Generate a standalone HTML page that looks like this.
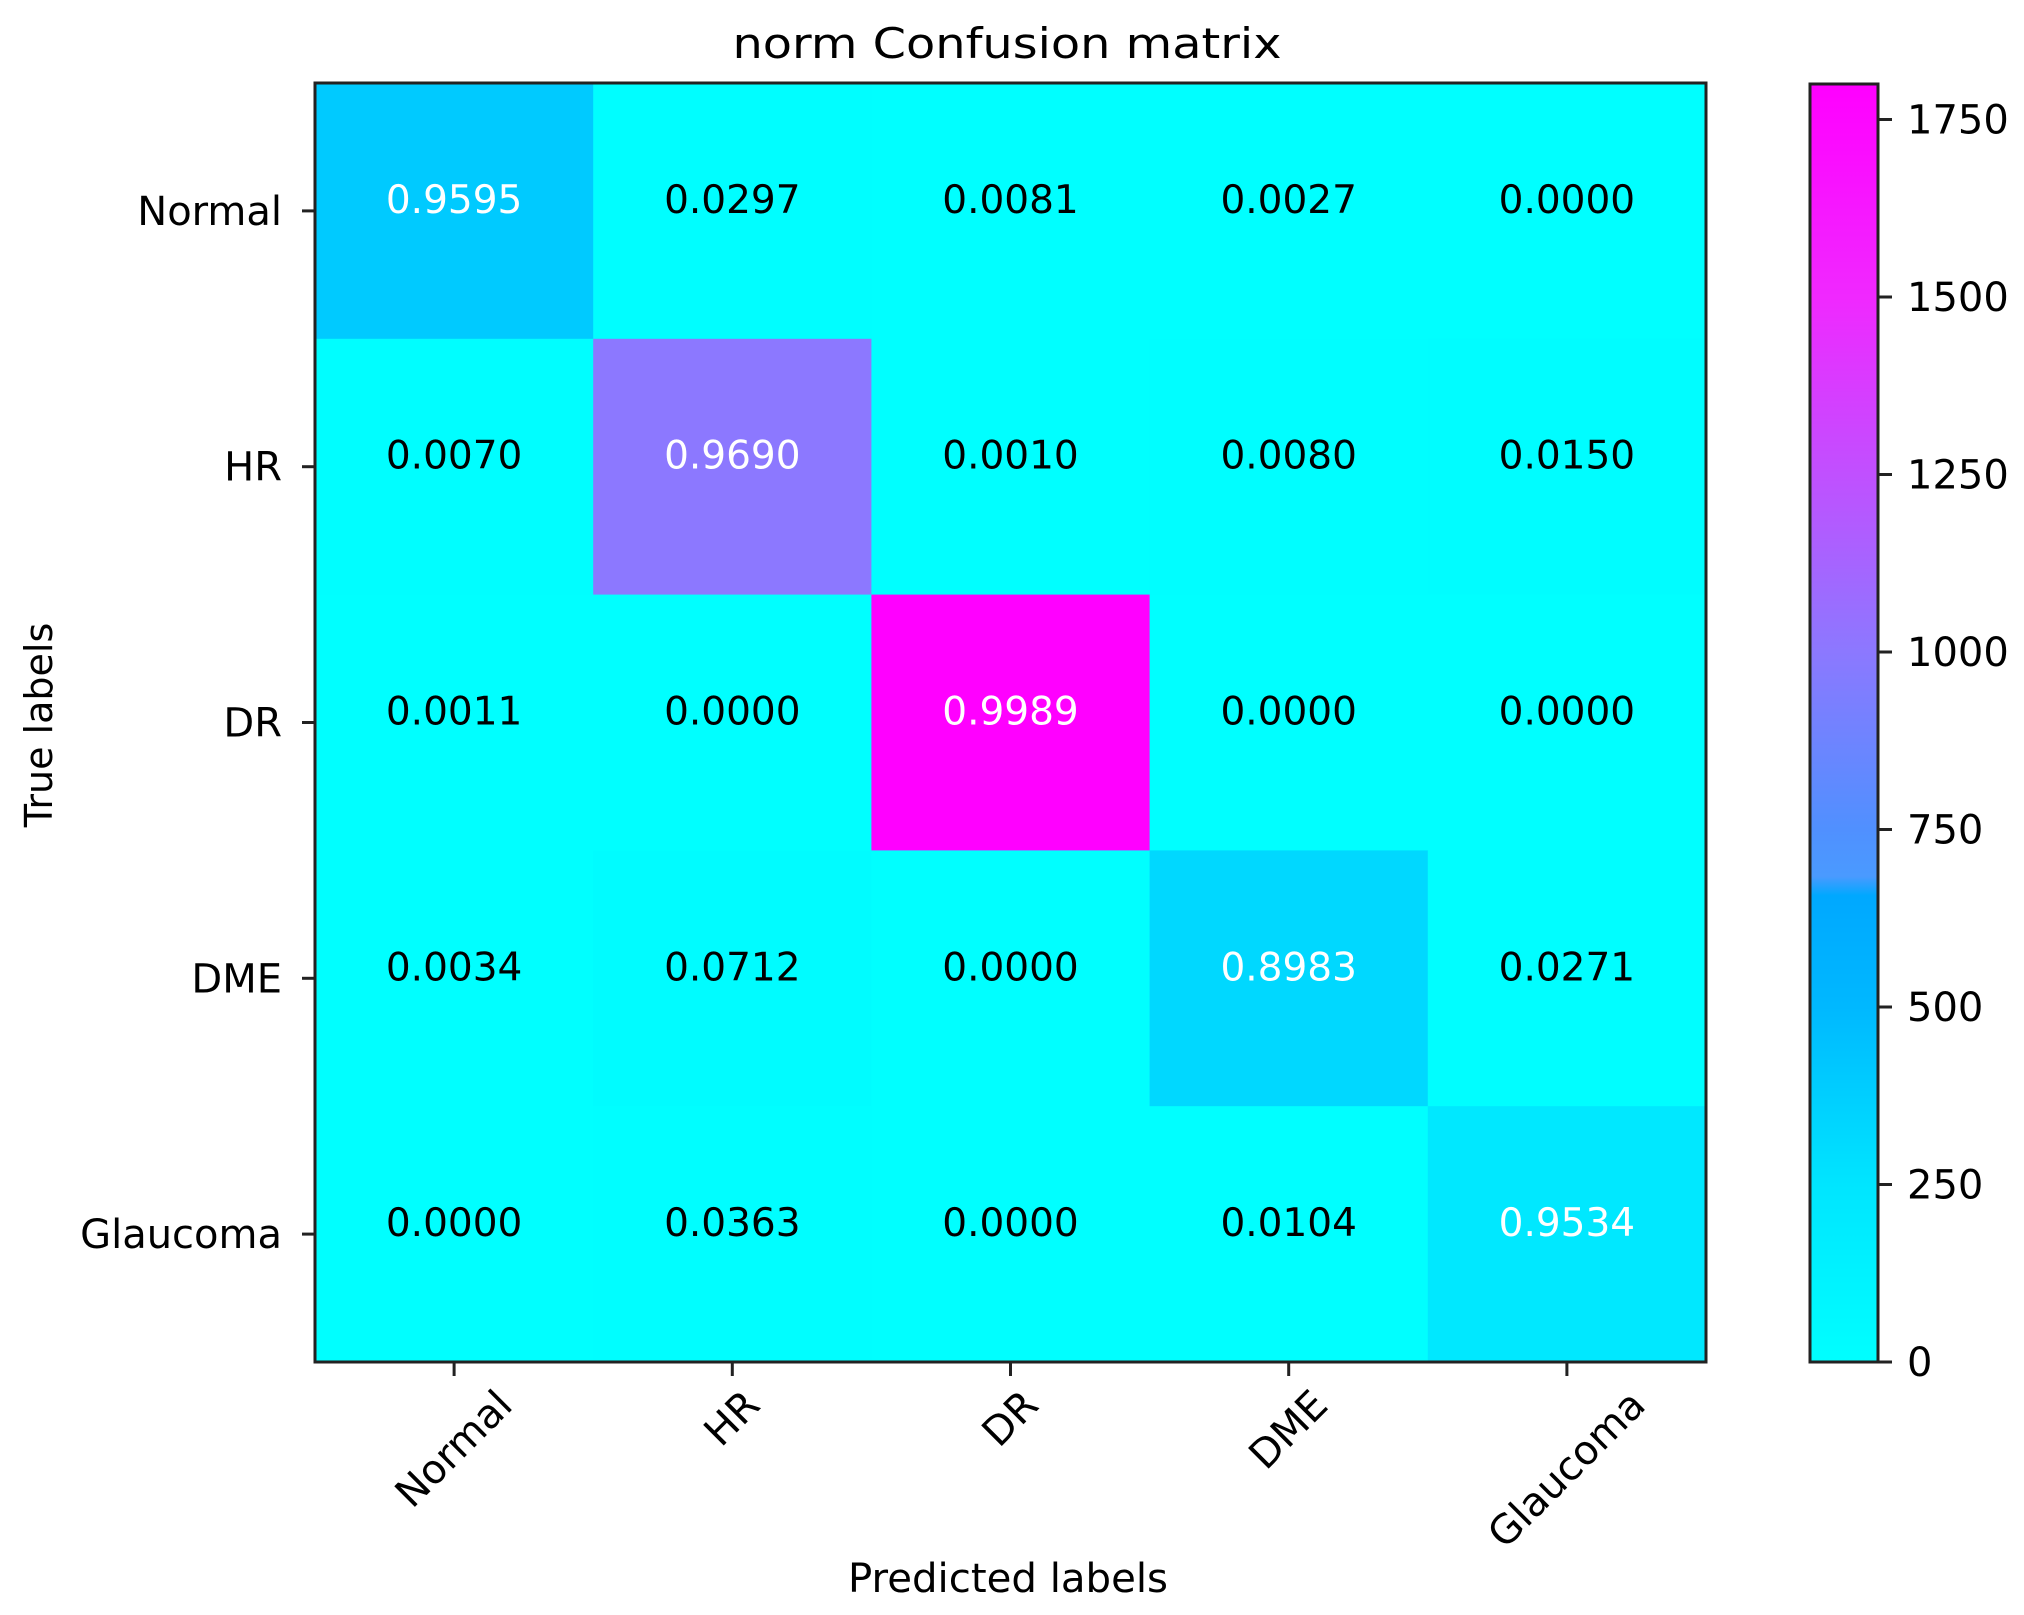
<!DOCTYPE html>
<html><head><meta charset="utf-8"><style>
html,body{margin:0;padding:0;background:#fff;}
svg{display:block;font-family:"DejaVu Sans","Liberation Sans",sans-serif;}
</style></head><body>
<svg id="chart" width="2024" height="1615" viewBox="0 0 2024 1615" xmlns="http://www.w3.org/2000/svg">
<defs>
<linearGradient id="cbgrad" x1="0" y1="1" x2="0" y2="0">
<stop offset="0" stop-color="#00ffff"/>
<stop offset="0.139" stop-color="#00e5ff"/>
<stop offset="0.278" stop-color="#00b8ff"/>
<stop offset="0.365" stop-color="#00a8ff"/>
<stop offset="0.38" stop-color="#4a9aff"/>
<stop offset="0.417" stop-color="#5090ff"/>
<stop offset="0.556" stop-color="#8c78ff"/>
<stop offset="0.694" stop-color="#c050ff"/>
<stop offset="0.833" stop-color="#f028ff"/>
<stop offset="1" stop-color="#ff00ff"/>
</linearGradient>
</defs>
<text x="1007" y="58" font-size="42" text-anchor="middle" textLength="549" lengthAdjust="spacingAndGlyphs">norm Confusion matrix</text>
<g id="cells"></g>
<g id="annot"></g>
<rect x="315" y="83" width="1391" height="1279" fill="none" stroke="#222" stroke-width="3"/>
<g id="yaxis"></g>
<g id="xaxis"></g>
<text x="0" y="0" font-size="38" text-anchor="middle" transform="translate(52,725) rotate(-90)">True labels</text>
<text x="1008" y="1592" font-size="40" text-anchor="middle" textLength="320" lengthAdjust="spacingAndGlyphs">Predicted labels</text>
<rect x="1810" y="84" width="68" height="1278" fill="url(#cbgrad)" stroke="#222" stroke-width="3"/>
<g id="cbaxis"></g>
</svg>
<script>
const classes = ["Normal","HR","DR","DME","Glaucoma"];
const normValues = [
 [0.9595,0.0297,0.0081,0.0027,0.0000],
 [0.0070,0.9690,0.0010,0.0080,0.0150],
 [0.0011,0.0000,0.9989,0.0000,0.0000],
 [0.0034,0.0712,0.0000,0.8983,0.0271],
 [0.0000,0.0363,0.0000,0.0104,0.9534]
];
const counts = [
 [400,12,3,1,0],
 [7,1000,1,8,15],
 [2,0,1800,0,0],
 [1,25,0,320,10],
 [0,8,0,2,220]
];
const cbTicks = [0,250,500,750,1000,1250,1500,1750];
const vmax = 1800;

const NS="http://www.w3.org/2000/svg";
const X0=315, X1=1706, Y0=83, Y1=1362, CB0=84, CB1=1362;
const cw=(X1-X0)/classes.length, ch=(Y1-Y0)/classes.length;
function xPos(i){return X0+i*cw;}
function yPos(i){return Y0+i*ch;}
function cbY(v){return CB1-(v/vmax)*(CB1-CB0);}
const cmapStops=[[0,[0,255,255]],[250,[0,229,255]],[500,[0,184,255]],[657,[0,168,255]],[684,[74,154,255]],[750,[80,144,255]],[1000,[140,120,255]],[1250,[192,80,255]],[1500,[240,40,255]],[1800,[255,0,255]]];
function cmap(v){
 for(let k=1;k<cmapStops.length;k++){
  if(v<=cmapStops[k][0]){
   const a=cmapStops[k-1],b=cmapStops[k];const t=(v-a[0])/(b[0]-a[0]);
   const c=a[1].map((x,j)=>Math.round(x+(b[1][j]-x)*t));
   return `rgb(${c[0]},${c[1]},${c[2]})`;
  }
 }
 return "rgb(255,0,255)";
}
function mk(tag,attrs,parent){const e=document.createElementNS(NS,tag);for(const k in attrs)e.setAttribute(k,attrs[k]);parent.appendChild(e);return e;}
const cells=document.getElementById('cells'),annot=document.getElementById('annot');
for(let r=0;r<classes.length;r++){
 for(let c=0;c<classes.length;c++){
  const rc=mk('rect',{x:xPos(c),y:yPos(r),width:cw+0.5,height:ch+0.5,fill:cmap(counts[r][c])},cells);
  
  
  const t=mk('text',{x:xPos(c)+cw/2,y:yPos(r)+ch/2+2,'font-size':39,'text-anchor':'middle',fill:(r===c?'#ffffff':'#000000')},annot);
  
  
  t.textContent=normValues[r][c].toFixed(4);
 }
}
const ya=document.getElementById('yaxis'),xa=document.getElementById('xaxis');
for(let i=0;i<classes.length;i++){
 const yc=yPos(i)+ch/2;
 const tk=mk('line',{x1:302,x2:315,y1:yc,y2:yc,stroke:'#222','stroke-width':3},ya);
 
 
 const lb=mk('text',{x:282,y:yc+14,'font-size':40,'text-anchor':'end'},ya);
 
 
 lb.textContent=classes[i];
 const xc=xPos(i)+cw/2;
 const tx=mk('line',{x1:xc,x2:xc,y1:1362,y2:1376,stroke:'#222','stroke-width':3},xa);
 
 
 const xl=mk('text',{x:0,y:0,'font-size':40,'text-anchor':'middle','dominant-baseline':'central'},xa);
 
 
 xl.textContent=classes[i];
 const L=xl.getComputedTextLength();
 const half=(L*0.7071+40*0.7071)/2;
 xl.setAttribute('transform',`translate(${xc},${1384+half}) rotate(-45)`);
}
const cba=document.getElementById('cbaxis');
cbTicks.forEach(v=>{
 const y=cbY(v);
 const t=mk('line',{x1:1878,x2:1892,y1:y,y2:y,stroke:'#222','stroke-width':3},cba);
 
 
 const l=mk('text',{x:1907,y:y+14,'font-size':40},cba);
 
 
 l.textContent=String(v);
});
</script>
</body></html>
